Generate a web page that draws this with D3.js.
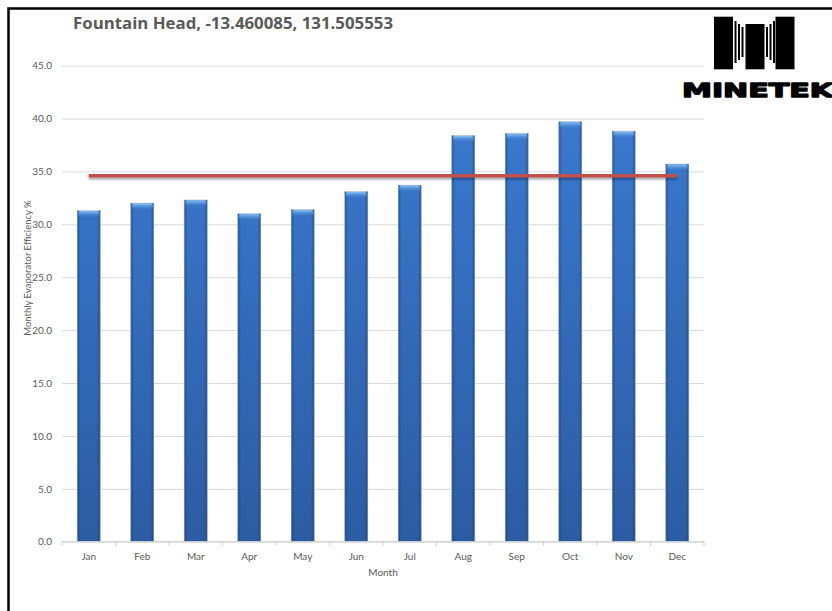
<!DOCTYPE html>
<html>
<head>
<meta charset="utf-8">
<script src="https://cdn.jsdelivr.net/npm/d3@7"></script>
<style>
  body { margin: 0; background: #fff; }
  svg { display: block; }
</style>
</head>
<body>
<div id="chart"></div>
<script>
const months = ["Jan", "Feb", "Mar", "Apr", "May", "Jun", "Jul", "Aug", "Sep", "Oct", "Nov", "Dec"];
const efficiency = [31.3, 32.0, 32.3, 31.0, 31.4, 33.1, 33.7, 38.4, 38.6, 39.7, 38.8, 35.7];
const average = [34.6, 34.6, 34.6, 34.6, 34.6, 34.6, 34.6, 34.6, 34.6, 34.6, 34.6, 34.6];
const yTicks = [0, 5, 10, 15, 20, 25, 30, 35, 40, 45];

const w = 832;
const h = 611;
const margin = { top: 65.6, right: 128, bottom: 69.3, left: 62 };
const innerWidth = w - margin.left - margin.right;
const innerHeight = h - margin.top - margin.bottom;
const font = "Lato, 'Open Sans', sans-serif";

const svg = d3.select("#chart")
  .append("svg")
  .attr("width", w)
  .attr("height", h);

const defs = svg.append("defs");

// vertical shading: brighter blue at top, darker near the axis
const body = defs.append("linearGradient")
  .attr("id", "barBody")
  .attr("gradientUnits", "userSpaceOnUse")
  .attr("x1", 0).attr("y1", margin.top)
  .attr("x2", 0).attr("y2", margin.top + innerHeight);
body.append("stop").attr("offset", "0%").attr("stop-color", "#3d80da");
body.append("stop").attr("offset", "100%").attr("stop-color", "#2c5ea6");

// dark bevel at both sides of a bar
const edge = defs.append("linearGradient").attr("id", "barEdge");
edge.append("stop").attr("offset", "0%").attr("stop-color", "#1c3a66").attr("stop-opacity", 0.6);
edge.append("stop").attr("offset", "14%").attr("stop-color", "#1c3a66").attr("stop-opacity", 0.05);
edge.append("stop").attr("offset", "86%").attr("stop-color", "#1c3a66").attr("stop-opacity", 0.05);
edge.append("stop").attr("offset", "100%").attr("stop-color", "#1c3a66").attr("stop-opacity", 0.6);

const cap = defs.append("linearGradient")
  .attr("id", "barCap")
  .attr("x1", 0).attr("y1", 0).attr("x2", 0).attr("y2", 1);
cap.append("stop").attr("offset", "0%").attr("stop-color", "#8cc0f5");
cap.append("stop").attr("offset", "100%").attr("stop-color", "#4a8ee0").attr("stop-opacity", 0);

// horizontal line has zero-height bbox, so the filter region is in user space
const shadow = defs.append("filter").attr("id", "lineShadow")
  .attr("filterUnits", "userSpaceOnUse")
  .attr("x", 0).attr("y", 0).attr("width", w).attr("height", h);
shadow.append("feDropShadow")
  .attr("dx", 0).attr("dy", 2).attr("stdDeviation", 1.2)
  .attr("flood-color", "#000").attr("flood-opacity", 0.35);

const x = d3.scaleBand()
  .domain(months)
  .range([margin.left, margin.left + innerWidth])
  .paddingInner(0.57)
  .paddingOuter(0.285);

const y = d3.scaleLinear()
  .domain([0, 45])
  .range([margin.top + innerHeight, margin.top]);

// frame (left and top edges only are in view)
svg.append("path")
  .attr("d", `M8.5,${h + 5} V8.5 H${w + 5}`)
  .attr("fill", "none")
  .attr("stroke", "#000")
  .attr("stroke-width", 2.5);

// gridlines + y labels
svg.append("g")
  .attr("transform", `translate(${margin.left},0)`)
  .call(d3.axisLeft(y).tickValues(yTicks).tickSize(-innerWidth).tickFormat(d3.format(".1f")))
  .call((g) => g.select(".domain").remove())
  .call((g) => g.selectAll(".tick line").attr("stroke", "#d9d9d9").attr("stroke-width", 1))
  .call((g) => g.selectAll(".tick text")
    .attr("x", -10)
    .attr("fill", "#595959")
    .style("font-size", "10px")
    .style("font-family", font));

// bars
const bars = svg.append("g")
  .selectAll("g")
  .data(months)
  .enter()
  .append("g");

bars.append("rect")
  .attr("x", (d) => x(d))
  .attr("y", (d, i) => y(efficiency[i]))
  .attr("width", x.bandwidth())
  .attr("height", (d, i) => y(0) - y(efficiency[i]))
  .attr("fill", "url(#barBody)")
  .attr("stroke", "#c9d6e8")
  .attr("stroke-width", 0.8);

bars.append("rect")
  .attr("x", (d) => x(d))
  .attr("y", (d, i) => y(efficiency[i]))
  .attr("width", x.bandwidth())
  .attr("height", (d, i) => y(0) - y(efficiency[i]))
  .attr("fill", "url(#barEdge)");

bars.append("rect")
  .attr("x", (d) => x(d) + 1)
  .attr("y", (d, i) => y(efficiency[i]) + 0.5)
  .attr("width", x.bandwidth() - 2)
  .attr("height", 6)
  .attr("rx", 2)
  .attr("fill", "url(#barCap)");

// x axis line and boundary ticks
const step = x.step();
svg.append("line")
  .attr("x1", margin.left).attr("x2", margin.left + innerWidth)
  .attr("y1", y(0)).attr("y2", y(0))
  .attr("stroke", "#d0d0d0");

svg.append("g")
  .selectAll("line")
  .data(d3.range(months.length + 1))
  .enter()
  .append("line")
  .attr("x1", (i) => margin.left + i * step)
  .attr("x2", (i) => margin.left + i * step)
  .attr("y1", y(0))
  .attr("y2", y(0) + 4)
  .attr("stroke", "#d0d0d0");

svg.append("g")
  .selectAll("text")
  .data(months)
  .enter()
  .append("text")
  .attr("x", (d) => x(d) + x.bandwidth() / 2)
  .attr("y", y(0) + 18)
  .attr("text-anchor", "middle")
  .attr("fill", "#595959")
  .style("font-size", "10px")
  .style("font-family", font)
  .text((d) => d);

// average line
const line = d3.line()
  .x((d, i) => x(months[i]) + x.bandwidth() / 2)
  .y((d) => y(d));

svg.append("path")
  .datum(average)
  .attr("d", line)
  .attr("fill", "none")
  .attr("stroke", "#c0504d")
  .attr("stroke-width", 3.5)
  .attr("filter", "url(#lineShadow)");

// titles
svg.append("text")
  .attr("x", 73)
  .attr("y", 29)
  .attr("textLength", 320)
  .attr("lengthAdjust", "spacingAndGlyphs")
  .attr("fill", "#595959")
  .style("font-size", "16px")
  .style("font-weight", "bold")
  .style("font-family", "'Open Sans', sans-serif")
  .text("Fountain Head, -13.460085, 131.505553");

svg.append("text")
  .attr("x", margin.left + innerWidth / 2)
  .attr("y", 576)
  .attr("text-anchor", "middle")
  .attr("fill", "#595959")
  .style("font-size", "10px")
  .style("font-family", font)
  .text("Month");

svg.append("text")
  .attr("transform", "translate(31,268) rotate(-90)")
  .attr("text-anchor", "middle")
  .attr("fill", "#595959")
  .style("font-size", "9.5px")
  .style("font-family", font)
  .text("Monthly Evaporator Efficiency %");

// MINETEK logo
const logo = svg.append("g");
logo.append("rect").attr("x", 714).attr("y", 16.7).attr("width", 19).attr("height", 52.6).attr("fill", "#000");
logo.append("rect").attr("x", 775.5).attr("y", 16.7).attr("width", 19).attr("height", 52.6).attr("fill", "#000");
logo.append("rect").attr("x", 745.5).attr("y", 24).attr("width", 19).attr("height", 45.3).attr("fill", "#000");
[[734.5, 21, 63], [738, 24, 60], [741.5, 27, 57]].forEach(([sx, y0, y1]) => {
  logo.append("rect").attr("x", sx).attr("y", y0).attr("width", 2).attr("height", y1 - y0).attr("fill", "#000");
  logo.append("rect").attr("x", 1509.5 - sx - 2).attr("y", y0).attr("width", 2).attr("height", y1 - y0).attr("fill", "#000");
});
logo.append("text")
  .attr("x", 682)
  .attr("y", 97)
  .attr("textLength", 151)
  .attr("lengthAdjust", "spacingAndGlyphs")
  .attr("fill", "#000")
  .attr("stroke", "#000")
  .attr("stroke-width", 1.3)
  .attr("stroke-linejoin", "round")
  .style("font-size", "19px")
  .style("font-weight", "bold")
  .style("font-family", "'DejaVu Sans', sans-serif")
  .text("MINETEK");
</script>
</body>
</html>
